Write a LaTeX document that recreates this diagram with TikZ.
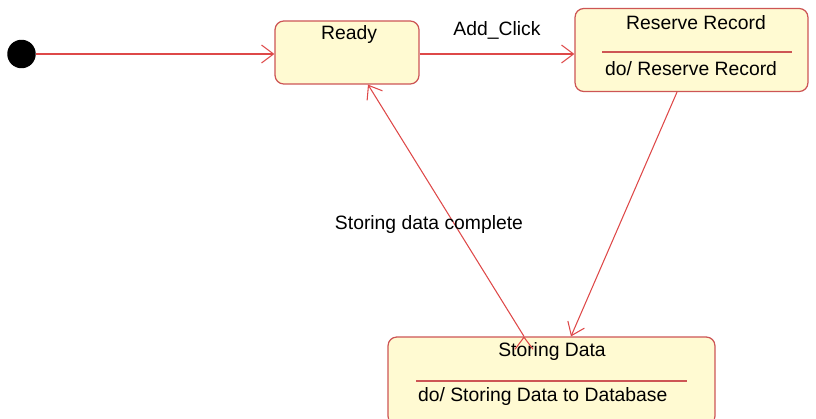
\documentclass[tikz,border=0pt]{standalone}
\usepackage{fontspec}
\setmainfont{Liberation Sans}
\usetikzlibrary{positioning,arrows.meta}

\definecolor{statefill}{RGB}{255,250,210}
\definecolor{stateline}{RGB}{205,85,85}
\definecolor{arrowline}{RGB}{222,72,72}

\begin{document}
\begin{tikzpicture}[
	x=0.02cm,y=-0.02cm,
	font=\fontsize{11}{13}\selectfont,
	mystate/.style={draw=stateline,fill=statefill,rounded corners=5pt,line width=0.7pt},
	mylabel/.style={inner sep=1pt},
	mytrans/.style={draw=arrowline,line width=0.6pt,-{Straight Barb[length=2.4mm,width=3.6mm]}}
	]
	\useasboundingbox (0,0) rectangle (816,419);
	\node[circle,fill=black,minimum size=0.57cm,inner sep=0] (init) at (21.5,54) {};
	\node[mystate,minimum width=2.88cm,minimum height=1.26cm] (ready) at (347,52.5) {};
	\node[mystate,minimum width=4.66cm,minimum height=1.66cm] (reserve) at (691.5,50) {};
	\node[mystate,minimum width=6.54cm,minimum height=1.76cm] (storing) at (551.5,381) {};
	\node[mylabel] (readytxt) at (349,35) {Ready};
	\node[mylabel] (reservetxt) at (696,23) {Reserve Record};
	\draw[stateline,line width=0.6pt] (602,52) -- (792,52);
	\node[mylabel,anchor=west] (reservedo) at (603,69) {do/ Reserve Record};
	\node[mylabel] (storingtxt) at (552,352) {Storing Data};
	\draw[stateline,line width=0.6pt] (416,381) -- (687,381);
	\node[mylabel,anchor=west] (storingdo) at (416,397) {do/ Storing Data to Database};
	\path [mytrans]
	(init) edge (init -| ready.west)
	(ready.east |- init) edge (reserve.west |- init)
	([xshift=-0.29cm]reserve.south) edge ([xshift=0.39cm]storing.north)
	([xshift=-0.55cm]storing.north) edge ([xshift=0.42cm]ready.south);
	\node[mylabel] (addclick) at (497,30) {Add\_Click};
	\node[mylabel] (complete) at (429,225) {Storing data complete};
\end{tikzpicture}
\end{document}
